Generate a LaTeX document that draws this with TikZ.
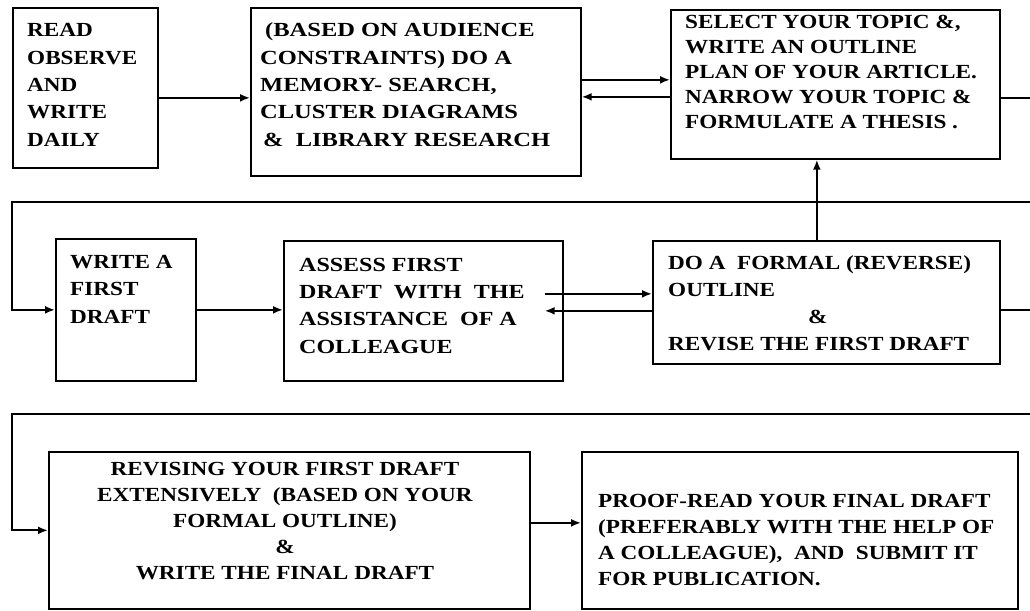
\documentclass[tikz,border=0pt]{standalone}
\usepackage{fontspec}
\setmainfont{Liberation Serif}[FakeStretch=1.16]
\newfontfamily\widefont{Liberation Serif}[FakeStretch=1.225]
\newfontfamily\midfont{Liberation Serif}[FakeStretch=1.2]
\usetikzlibrary{arrows.meta,calc}
\begin{document}
\begin{tikzpicture}[x=1pt,y=-1pt,
  box/.style={draw,line width=1.7pt,inner sep=0pt,anchor=north west},
  txt/.style={inner sep=0pt,align=left,anchor=base west,font=\fontsize{20}{27.3}\selectfont\bfseries},
  ctxt/.style={inner sep=0pt,align=center,anchor=base,font=\fontsize{20}{26}\selectfont\bfseries},
  conn/.style={line width=2pt},
  arr/.style={line width=2pt,-{Latex[length=10pt,width=8pt]}}]
\useasboundingbox (0,0) rectangle (1030,610);
% boxes
\node[box,minimum width=145pt,minimum height=160pt] (b1) at (12,7) {};
\node[box,minimum width=330pt,minimum height=168pt] (b2) at (250,7) {};
\node[box,minimum width=329pt,minimum height=149pt] (b3) at (670,9) {};
\node[box,minimum width=140pt,minimum height=142pt] (b4) at (55,238) {};
\node[box,minimum width=279pt,minimum height=140pt] (b5) at (283,240) {};
\node[box,minimum width=347pt,minimum height=123pt] (b6) at (652,240) {};
\node[box,minimum width=481pt,minimum height=157pt] (b7) at (48,451) {};
\node[box,minimum width=436pt,minimum height=157pt] (b8) at (581,451) {};
% texts (anchor = baseline of the last line)
\node[txt] (t1) at (27,146) {READ\\OBSERVE\\AND\\WRITE\\DAILY};
\node[txt,font=\fontsize{20}{27.3}\selectfont\widefont\bfseries] (t2) at (260,146) {\hspace*{5pt}(BASED ON AUDIENCE\\CONSTRAINTS) DO A\\MEMORY- SEARCH,\\CLUSTER DIAGRAMS\\\hspace*{3pt}\&\ \ LIBRARY RESEARCH};
\node[txt,font=\fontsize{20}{25}\selectfont\bfseries] (t3) at (685,128) {SELECT YOUR TOPIC \&,\\WRITE AN OUTLINE\\PLAN OF YOUR ARTICLE.\\NARROW YOUR TOPIC \&\\FORMULATE A THESIS .};
\node[txt,font=\fontsize{20}{27.5}\selectfont\bfseries] (t4) at (70,323) {WRITE A\\FIRST\\DRAFT};
\node[txt,font=\fontsize{20}{27.3}\selectfont\midfont\bfseries] (t5) at (299,353) {ASSESS FIRST\\DRAFT\ \ WITH\ \ THE\\ASSISTANCE\ \ OF A\\COLLEAGUE};
\node[txt,font=\fontsize{20}{27}\selectfont\bfseries] (t6) at (668,350) {DO A\ \ FORMAL (REVERSE)\\OUTLINE\\\hspace*{140pt}\&\\REVISE THE FIRST DRAFT};
\node[ctxt] (t7) at (285,579) {REVISING YOUR FIRST DRAFT\\EXTENSIVELY\ \ (BASED ON YOUR\\FORMAL OUTLINE)\\\&\\WRITE THE FINAL DRAFT};
\node[txt,font=\fontsize{20}{25.7}\selectfont\bfseries] (t8) at (598,585) {PROOF-READ YOUR FINAL DRAFT\\(PREFERABLY WITH THE HELP OF\\A COLLEAGUE),\ \ AND\ \ SUBMIT IT\\FOR PUBLICATION.};
% free ends
\coordinate (r1) at (1030,98);
\coordinate (r2) at (1030,202);
\coordinate (l2) at (12,202);
\coordinate (r3) at (1030,310);
\coordinate (r4) at (1030,414);
\coordinate (l4) at (12,414);
% connectors
\draw[arr] ([yshift=-6pt]b2.west -| b1.east) -- ([yshift=-6pt]b2.west);
\draw[arr] ([yshift=4.5pt]b3.west -| b2.east) -- ([yshift=4.5pt]b3.west);
\draw[arr] ([yshift=-12.5pt]b3.west) -- ([yshift=-12.5pt]b3.west -| b2.east);
\draw[conn] (r1 -| b3.east) -- (r1);
\draw[arr] (r2) -- (l2) |- (b4.west);
\draw[arr] (b4.east) -- (b4.east -| b5.west);
\draw[arr] ([xshift=-19pt,yshift=8.5pt]b6.west -| b5.east) -- ([yshift=8.5pt]b6.west);
\draw[arr] ([yshift=-8.5pt]b6.west) -- ([xshift=-19pt,yshift=-8.5pt]b6.west -| b5.east);
\draw[arr] ([xshift=-9.5pt]b6.north) -- ([xshift=-9.5pt]b6.north |- b3.south);
\draw[conn] (r3 -| b6.east) -- (r3);
\draw[arr] (r4) -- (l4) |- (b7.west);
\draw[arr] ([yshift=7.5pt]b7.east) -- ([yshift=7.5pt]b7.east -| b8.west);
\end{tikzpicture}
\end{document}
